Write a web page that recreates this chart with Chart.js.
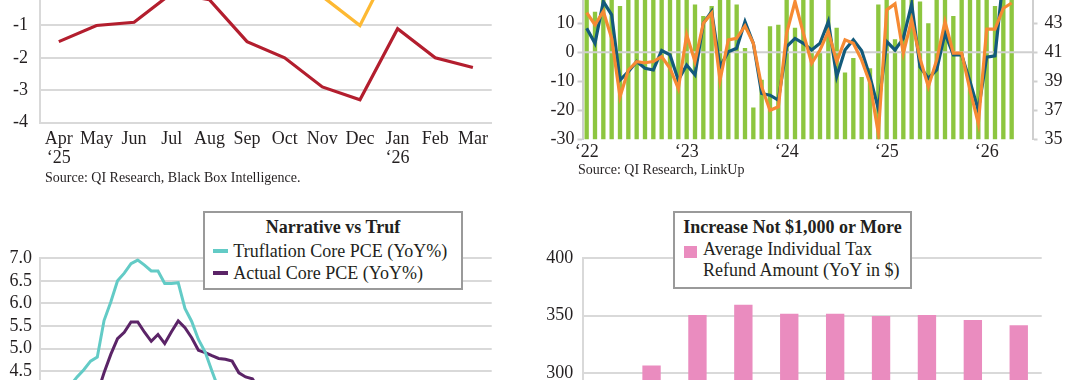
<!DOCTYPE html>
<html><head><meta charset="utf-8">
<script src="https://cdn.jsdelivr.net/npm/chart.js@4.4.1/dist/chart.umd.min.js"></script>
<style>
html,body{margin:0;padding:0;background:#fff;overflow:hidden;}
body{width:1080px;height:380px;position:relative;font-family:"Liberation Serif",serif;color:#231f20;}
canvas{position:absolute;}
.src{position:absolute;font-size:14px;line-height:14px;white-space:nowrap;}
.lg{position:absolute;background:#fff;border:2px solid #9a9a9a;box-sizing:border-box;font-size:18px;line-height:22px;}
.lg .t{position:absolute;left:0;right:0;text-align:center;font-weight:bold;white-space:nowrap;}
.lg .ln{position:absolute;height:4px;}
.lg .sq{position:absolute;}
.lg .tx{position:absolute;}
</style></head><body>
<canvas id="c1" width="520" height="242" style="left:0;top:-62px"></canvas>
<canvas id="c2" width="540" height="215" style="left:540px;top:-40px"></canvas>
<canvas id="c3" width="520" height="330" style="left:0;top:200px"></canvas>
<canvas id="c4" width="540" height="560" style="left:540px;top:200px"></canvas>
<div class="src" style="left:45px;top:170.5px">Source: QI Research, Black Box Intelligence.</div>
<div class="src" style="left:578px;top:162.5px">Source: QI Research, LinkUp</div>
<div class="lg" id="lg3" style="left:203px;top:211px;width:260px;height:79px"></div>
<div class="lg" id="lg4" style="left:673px;top:211px;width:239px;height:78px"></div>
<script>
// ---------- DATA ----------
// Chart 1 (top-left)
const months1 = [['Apr','\u201825'],'May','Jun','Jul','Aug','Sep','Oct','Nov','Dec',['Jan','\u201826'],'Feb','Mar'];
const seriesRed1 = [-1.5,-1.0,-0.9,0.0,-0.2,-1.5,-2.0,-2.9,-3.3,-1.1,-2.0,-2.3];
const seriesYellow1 = [null,null,null,null,null,null,null,-0.1,-1.0,1.3,null,null];

// Chart 2 (top-right), Jan 2022 - Jun 2026
const months2 = ('Jan-22 Feb-22 Mar-22 Apr-22 May-22 Jun-22 Jul-22 Aug-22 Sep-22 Oct-22 Nov-22 Dec-22 ' +
  'Jan-23 Feb-23 Mar-23 Apr-23 May-23 Jun-23 Jul-23 Aug-23 Sep-23 Oct-23 Nov-23 Dec-23 ' +
  'Jan-24 Feb-24 Mar-24 Apr-24 May-24 Jun-24 Jul-24 Aug-24 Sep-24 Oct-24 Nov-24 Dec-24 ' +
  'Jan-25 Feb-25 Mar-25 Apr-25 May-25 Jun-25 Jul-25 Aug-25 Sep-25 Oct-25 Nov-25 Dec-25 ' +
  'Jan-26 Feb-26 Mar-26 Apr-26 May-26 Jun-26').split(' ');
const yearTicks2 = ['\u201822','\u201823','\u201824','\u201825','\u201826'];
const bars2 = [45.8,43.8,46.0,45.6,44.2,45.9,46.3,46.0,45.7,46.2,45.8,45.5,
  46.0,44.3,43.5,44.2,45.6,45.2,44.3,41.3,37.2,39.1,42.8,42.9,
  45.4,42.7,45.3,45.3,41.0,45.6,42.7,39.6,40.6,39.3,39.9,44.3,
  45.5,41.9,45.4,45.8,44.5,43.0,44.6,45.3,43.5,45.6,45.4,45.7,
  45.5,44.2,45.6,45.5];
const blue2 = [8.3,3.1,17.5,12.9,-9.6,-6.7,-3.2,-5.5,-6.1,0.6,-0.9,-9.6,
  -4.4,-7.8,10.0,14.1,-5.0,0.2,1.4,10.6,3.1,-14.2,-14.8,-16.5,
  2.0,4.8,3.1,0.8,3.1,10.6,-8.4,0.8,4.3,0.5,-8.4,-19.5,
  3.7,0.8,4.8,16.7,-5.0,-9.0,-6.1,6.6,-0.9,-0.9,-10.1,-20.0,
  -1.7,-1.2,26,27];
const orange2 = [13.7,9.5,14.1,4.8,-15.3,-6.1,-3.2,-3.6,-3.2,-1.5,-5.5,-12.5,
  6.0,-3.2,10.0,13.5,-9.6,4.3,4.8,9.1,3.1,-11.9,-20,-18.8,
  6.6,17.5,6.6,-3.8,0.8,7.2,-3.2,4.3,3.1,-2.7,-10.7,-28,
  14.6,16.7,-0.3,11.2,-2.1,-11.9,-2.7,10.6,-0.3,-0.3,-13,-24.6,
  8.0,8.0,15.2,17.0];

// Chart 3 (bottom-left), Jan 2021 - Jul 2026
const months3 = ('Jan-21 Feb-21 Mar-21 Apr-21 May-21 Jun-21 Jul-21 Aug-21 Sep-21 Oct-21 Nov-21 Dec-21 ' +
  'Jan-22 Feb-22 Mar-22 Apr-22 May-22 Jun-22 Jul-22 Aug-22 Sep-22 Oct-22 Nov-22 Dec-22 ' +
  'Jan-23 Feb-23 Mar-23 Apr-23 May-23 Jun-23 Jul-23 Aug-23 Sep-23 Oct-23 Nov-23 Dec-23 ' +
  'Jan-24 Feb-24 Mar-24 Apr-24 May-24 Jun-24 Jul-24 Aug-24 Sep-24 Oct-24 Nov-24 Dec-24 ' +
  'Jan-25 Feb-25 Mar-25 Apr-25 May-25 Jun-25 Jul-25 Aug-25 Sep-25 Oct-25 Nov-25 Dec-25 ' +
  'Jan-26 Feb-26 Mar-26 Apr-26 May-26 Jun-26 Jul-26').split(' ');
const truflation3 = [null,null,null,null,4.18,4.37,4.53,4.72,4.81,5.62,6.03,6.5,6.67,6.88,6.96,6.85,6.72,6.72,6.44,6.44,6.46,5.89,5.6,5.2,4.92,4.5,4.1];
const actual3 = [null,null,null,null,null,null,null,null,4.0,4.46,4.87,5.22,5.36,5.59,5.59,5.36,5.16,5.31,5.11,5.37,5.61,5.46,5.24,4.96,4.91,4.84,4.78,4.76,4.72,4.46,4.37,4.33,4.1];
const legendTitle3 = 'Narrative vs Truf';

// Chart 4 (bottom-right)
const weeks4 = ['Week 1','Week 2','Week 3','Week 4','Week 5','Week 6','Week 7','Week 8','Week 9','Week 10'];
const refund4 = [250,306.5,350.6,359.6,351.6,351.6,349.8,350.6,346.1,341.7];
const legendTitle4 = 'Increase Not $1,000 or More';

// ---------- STYLE ----------
Chart.defaults.font.family = "'Liberation Serif', serif";
Chart.defaults.font.size = 18;
Chart.defaults.color = '#231f20';
const GRID = '#d9d9d9';
const fixW = w => s => { s.width = w; };
const fixH = h => s => { s.height = h; };
const noPlug = {legend:{display:false}, tooltip:{enabled:false}};

// Chart 1
new Chart(document.getElementById('c1'), {
  type:'line',
  data:{labels:months1, datasets:[
    {label:'Series A', data:seriesRed1, borderColor:'#b31e2e', borderWidth:3.2, pointRadius:0, tension:0},
    {label:'Series B', data:seriesYellow1, borderColor:'#fdb933', borderWidth:3.2, pointRadius:0, tension:0, spanGaps:false}
  ]},
  options:{responsive:false, animation:false, plugins:noPlug,
    layout:{padding:{top:8.5,right:28.3,left:0,bottom:0}},
    scales:{
      x:{offset:true, grid:{display:false, drawTicks:false}, border:{display:true,color:GRID,width:2},
         ticks:{padding:7, autoSkip:false, maxRotation:0, font:{size:18, lineHeight:1.05}}, afterFit:fixH(57.5)},
      y:{min:-4, max:1, ticks:{stepSize:1, padding:12, autoSkip:false}, grid:{color:GRID, lineWidth:2, drawTicks:false},
         border:{color:GRID,width:2}, afterFit:fixW(40)}
    }}
});

// Chart 2
const zeroLine = {
  id:'zeroLine',
  afterDatasetDraw(chart, args){
    if (args.index !== 0) return;
    const y = chart.scales.yL.getPixelForValue(0);
    const a = chart.chartArea, c = chart.ctx;
    c.save(); c.strokeStyle = '#cfcfcf'; c.lineWidth = 2;
    c.beginPath(); c.moveTo(a.left, y); c.lineTo(a.right, y); c.stroke(); c.restore();
  }
};
new Chart(document.getElementById('c2'), {
  type:'bar',
  data:{labels:months2, datasets:[
    {type:'bar', label:'Bars', data:bars2, yAxisID:'yR', backgroundColor:'#8dc63f', barPercentage:0.52, categoryPercentage:1, order:3},
    {type:'line', label:'Blue', data:blue2, yAxisID:'yL', borderColor:'#135a7b', borderWidth:3.2, pointRadius:0, tension:0, order:2},
    {type:'line', label:'Orange', data:orange2, yAxisID:'yL', borderColor:'#f68a33', borderWidth:3.2, pointRadius:0, tension:0, order:1}
  ]},
  plugins:[zeroLine],
  options:{responsive:false, animation:false, plugins:noPlug,
    layout:{padding:{top:34.3,right:0,left:0,bottom:0}},
    scales:{
      x:{offset:true, grid:{display:false, drawTicks:false}, border:{display:false},
         ticks:{padding:3.8, autoSkip:false, maxRotation:0, minRotation:0, font:{size:18, lineHeight:1.05},
           callback:(v,i)=> i%12===0 ? yearTicks2[i/12] : ''}, afterFit:fixH(35.7)},
      yL:{position:'left', min:-30, max:20, ticks:{stepSize:10, padding:3, autoSkip:false},
         grid:{drawOnChartArea:false, drawTicks:true, tickLength:5, tickColor:'#cfcfcf', tickWidth:2},
         border:{color:'#cfcfcf', width:2}, afterFit:fixW(42.5)},
      yR:{position:'right', min:35, max:45, ticks:{stepSize:2, padding:7, autoSkip:false},
         grid:{drawOnChartArea:false, drawTicks:true, tickLength:5, tickColor:'#cfcfcf', tickWidth:2},
         border:{color:'#cfcfcf', width:2}, afterFit:fixW(47.5)}
    }}
});

// Chart 3
const chart3 = new Chart(document.getElementById('c3'), {
  type:'line',
  data:{labels:months3, datasets:[
    {label:'Truflation Core PCE (YoY%)', data:truflation3, borderColor:'#63cbc6', borderWidth:3, pointRadius:0, tension:0},
    {label:'Actual Core PCE (YoY%)', data:actual3, borderColor:'#5b2467', borderWidth:3, pointRadius:0, tension:0}
  ]},
  options:{responsive:false, animation:false, plugins:noPlug,
    layout:{padding:{top:58.3,right:28.3,left:0,bottom:0}},
    scales:{
      x:{offset:true, grid:{display:false, drawTicks:false}, border:{display:true,color:GRID,width:2},
         ticks:{padding:6, autoSkip:true, maxRotation:0}, afterFit:fixH(46.2)},
      y:{min:2, max:7, ticks:{stepSize:0.5, padding:8, autoSkip:false, callback:v=>Number(v).toFixed(1)},
         grid:{color:GRID, lineWidth:2, drawTicks:false}, border:{color:GRID,width:2}, afterFit:fixW(40)}
    }}
});

// Chart 4
const chart4 = new Chart(document.getElementById('c4'), {
  type:'bar',
  data:{labels:weeks4, datasets:[
    {label:'Average Individual Tax Refund Amount (YoY in $)', data:refund4, backgroundColor:'#ea8cbf', barPercentage:0.4, categoryPercentage:1}
  ]},
  options:{responsive:false, animation:false, plugins:noPlug,
    layout:{padding:{top:58.3,right:38.3,left:0,bottom:0}},
    scales:{
      x:{offset:true, grid:{display:false, drawTicks:false}, border:{display:true,color:GRID,width:2},
         ticks:{padding:6, autoSkip:false, maxRotation:0}, afterFit:fixH(42.9)},
      y:{min:0, max:400, ticks:{stepSize:50, padding:9.4, autoSkip:false},
         grid:{color:GRID, lineWidth:2, drawTicks:false}, border:{color:GRID,width:2}, afterFit:fixW(42.7)}
    }}
});

// ---------- LEGENDS (built from datasets) ----------
(function(){
  const lg3 = document.getElementById('lg3');
  const t3 = document.createElement('div'); t3.className='t'; t3.style.top='3px'; t3.textContent = legendTitle3; lg3.appendChild(t3);
  chart3.data.datasets.forEach((ds,i)=>{
    const top = 26.5 + 22*i;
    const ln = document.createElement('div'); ln.className='ln';
    ln.style.cssText = `left:7.7px;width:15.6px;top:${top+9}px;background:${ds.borderColor}`;
    const tx = document.createElement('div'); tx.className='tx';
    tx.style.cssText = `left:28.3px;top:${top}px;white-space:nowrap`;
    tx.textContent = ds.label;
    lg3.appendChild(ln); lg3.appendChild(tx);
  });
  const lg4 = document.getElementById('lg4');
  const t4 = document.createElement('div'); t4.className='t'; t4.style.top='2.7px'; t4.textContent = legendTitle4; lg4.appendChild(t4);
  chart4.data.datasets.forEach((ds,i)=>{
    const sq = document.createElement('div'); sq.className='sq';
    sq.style.cssText = `left:9px;top:33px;width:13px;height:12px;background:${ds.backgroundColor}`;
    const tx = document.createElement('div'); tx.className='tx';
    tx.style.cssText = 'left:28px;top:26px;width:205px;line-height:20.5px;white-space:normal';
    tx.textContent = ds.label;
    lg4.appendChild(sq); lg4.appendChild(tx);
  });
})();
</script>
</body></html>
